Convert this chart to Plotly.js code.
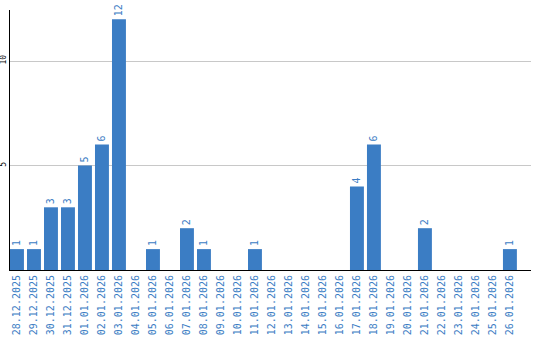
<!DOCTYPE html>
<html>
<head>
<meta charset="utf-8">
<script src="https://cdn.plot.ly/plotly-3.0.1.min.js"></script>
<style>html,body{margin:0;padding:0;background:#fff;}#chart{width:540px;height:340px;}</style>
</head>
<body>
<div id="chart"></div>
<script>
const dates = ["28.12.2025","29.12.2025","30.12.2025","31.12.2025","01.01.2026","02.01.2026","03.01.2026","04.01.2026","05.01.2026","06.01.2026","07.01.2026","08.01.2026","09.01.2026","10.01.2026","11.01.2026","12.01.2026","13.01.2026","14.01.2026","15.01.2026","16.01.2026","17.01.2026","18.01.2026","19.01.2026","20.01.2026","21.01.2026","22.01.2026","23.01.2026","24.01.2026","25.01.2026","26.01.2026"];
const counts = [1,1,3,3,5,6,12,0,1,0,2,1,0,0,1,0,0,0,0,0,4,6,0,0,2,0,0,0,0,1];
const yTicks = [5,10];

const barColor = '#3b7dc4';
const labels = counts.map(v => v > 0 ? String(v) : '');

Plotly.newPlot('chart', [{
  type: 'bar',
  x: dates,
  y: counts,
  text: labels,
  textposition: 'outside',
  textangle: -90,
  cliponaxis: false,
  textfont: {family: 'DejaVu Sans Mono', size: 10, color: barColor},
  marker: {color: barColor},
  hoverinfo: 'none'
}], {
  width: 540, height: 340,
  margin: {l: 10, r: 9, t: 10, b: 70, pad: 0},
  paper_bgcolor: '#fff', plot_bgcolor: '#fff',
  bargap: 0.18,
  showlegend: false,
  xaxis: {
    type: 'category',
    range: [-0.41, 30.24],
    tickangle: -90,
    tickfont: {family: 'DejaVu Sans Mono', size: 10, color: barColor},
    showline: true, linecolor: '#000', linewidth: 1,
    showgrid: false, zeroline: false,
    ticks: '', automargin: false
  },
  yaxis: {
    range: [0, 12.44],
    tickvals: yTicks,
    ticktext: yTicks.map(String),
    tickangle: -90,
    tickfont: {family: 'DejaVu Sans Mono', size: 8, color: '#000'},
    showline: true, linecolor: '#000', linewidth: 1,
    showgrid: true, gridcolor: '#c8c8c8', gridwidth: 1,
    zeroline: false, ticks: '', automargin: false
  }
}, {staticPlot: true});
</script>
</body>
</html>
